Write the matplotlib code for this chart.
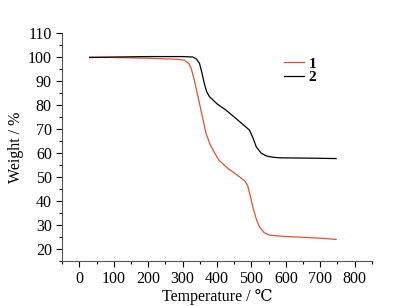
import matplotlib.pyplot as plt
from matplotlib.ticker import MultipleLocator

plt.rcParams['font.family'] = ['Liberation Serif', 'DejaVu Serif']

# Data (TG curves)
temp_1 = [30, 100, 200, 280, 305, 318, 325, 334, 349, 368, 380, 395, 407, 430, 465, 480, 489, 497, 504, 513, 523, 537, 552, 600, 650, 700, 746]
weight_1 = [100, 99.8, 99.5, 99.1, 98.7, 97.3, 95.3, 90.4, 80.7, 68.2, 63.5, 59.5, 56.8, 53.8, 50.1, 48.5, 46.5, 42, 37.6, 33, 29.3, 26.8, 25.8, 25.2, 24.9, 24.5, 24.0]
temp_2 = [30, 100, 200, 300, 330, 340, 349, 356, 363, 370, 378, 400, 426, 460, 494, 504, 514, 528, 543, 560, 581, 650, 746]
weight_2 = [99.8, 100, 100.2, 100.2, 100, 99.2, 97.4, 93.5, 89, 85.5, 83.5, 80.5, 77.9, 73.8, 69.6, 66.5, 62.6, 60, 58.8, 58.3, 58.0, 57.9, 57.7]

fig = plt.figure(figsize=(3.96, 3.06), dpi=100)
ax = fig.add_axes([0.157, 0.147, 0.782, 0.745])

ax.plot(temp_1, weight_1, color='#e8502a', lw=0.9, label='1')
ax.plot(temp_2, weight_2, color='black', lw=0.9, label='2')

ax.set_xlim(-50, 850)
ax.set_ylim(15, 110)
ax.xaxis.set_minor_locator(MultipleLocator(50))
ax.yaxis.set_minor_locator(MultipleLocator(5))
ax.set_yticks(range(20, 111, 10))
ax.set_xticks(range(0, 801, 100))
ax.tick_params(which='major', direction='out', length=4, width=0.8, labelsize=11.5)
ax.tick_params(which='minor', direction='out', length=2.5, width=0.8)
ax.spines['top'].set_visible(False)
ax.spines['right'].set_visible(False)
ax.spines['left'].set_color('#555555')
ax.spines['bottom'].set_color('#555555')

ax.set_xlabel('Temperature / ℃', fontsize=11.5, labelpad=1)
ax.set_ylabel('Weight / %', fontsize=11.5, labelpad=3)

leg = ax.legend(loc='upper left', bbox_to_anchor=(0.673, 0.956), frameon=False,
                handlelength=1.3, handletextpad=0.3, labelspacing=0.0,
                prop={'weight': 'bold', 'size': 11})

fig.savefig('out.png', dpi=100)
